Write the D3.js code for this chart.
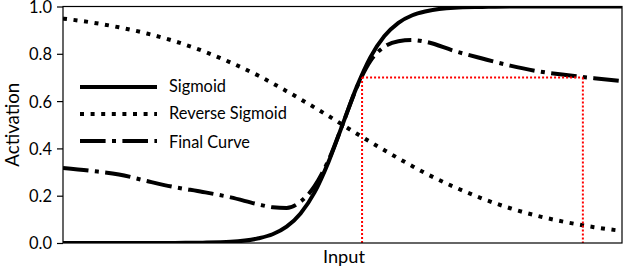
<!DOCTYPE html>
<html><head><meta charset="utf-8">
<script src="https://cdn.jsdelivr.net/npm/d3@7"></script>
<style>
html,body{margin:0;padding:0;background:#fff;}
text{font-family:Lato,"Open Sans",sans-serif;fill:#000;}
</style></head>
<body><svg id="c" width="626" height="272"></svg>
<script>
// Input positions (arbitrary units, -10..10)
const xs = [-10,-9,-8,-7,-6,-5,-4,-3,-2.5,-2,-1.5,-1,-0.5,0,0.5,1,1.5,2,2.5,3,4,5,6,7,8,9,10];
const sigmoid = [0,0,0,0,0.0004,0.0015,0.005,0.02,0.037,0.069,0.125,0.214,0.343,0.5,0.657,0.786,0.875,0.931,0.963,0.98,0.995,0.998,1,1,1,1,1];
const reverseSigmoid = [0.949,0.933,0.912,0.886,0.853,0.812,0.763,0.707,0.675,0.642,0.608,0.573,0.537,0.5,0.463,0.427,0.392,0.358,0.325,0.293,0.237,0.188,0.147,0.114,0.088,0.067,0.051];
const finalCurve = [0.317,0.305,0.290,0.262,0.236,0.216,0.193,0.163,0.151,0.148,0.175,0.24,0.35,0.50,0.655,0.77,0.83,0.853,0.858,0.85,0.812,0.78,0.75,0.726,0.71,0.697,0.685];
const yTicks = [0,0.2,0.4,0.6,0.8,1.0];
const yTickLabels = ["0.0","0.2","0.4","0.6","0.8","1.0"];
// Red guide: point on the curves at activation 0.7
const guideX = [0.7, 8.6];
const guideY = 0.7;
const seriesNames = ["Sigmoid","Reverse Sigmoid","Final Curve"];

const svg = d3.select("#c");
const L=63, R=622, T=6.5, B=243;
const x = d3.scaleLinear().domain([-10,10]).range([L,R]);
const y = d3.scaleLinear().domain([0,1]).range([B,T]);

function fit(sel, target){
  sel.attr("font-size",20);
  const w = sel.node().getComputedTextLength();
  sel.attr("font-size", 20*target/w);
  return sel;
}

svg.append("defs").append("clipPath").attr("id","clip")
  .append("rect").attr("x",L).attr("y",T).attr("width",R-L).attr("height",B-T);

const styles = [
  {dash:null},
  {dash:"4,6.6"},
  {dash:"25.6,6.4,4,6.4"}
];
const data = [sigmoid, reverseSigmoid, finalCurve];
const line = d3.line().x((d,i)=>x(xs[i])).y(d=>y(d)).curve(d3.curveMonotoneX);

const g = svg.append("g").attr("clip-path","url(#clip)");
data.forEach((s,k)=>{
  g.append("path").attr("d",line(s)).attr("fill","none").attr("stroke","#000")
   .attr("stroke-width",4).attr("stroke-dasharray",styles[k].dash);
});

// red dotted guides
const red = svg.append("g").attr("stroke","#ff0000").attr("stroke-width",2).attr("stroke-dasharray","2,2").attr("fill","none");
red.append("line").attr("x1",x(guideX[0])).attr("x2",x(guideX[0])).attr("y1",y(0)).attr("y2",y(guideY));
red.append("line").attr("x1",x(guideX[0])).attr("x2",x(guideX[1])).attr("y1",y(guideY)).attr("y2",y(guideY));
red.append("line").attr("x1",x(guideX[1])).attr("x2",x(guideX[1])).attr("y1",y(guideY)).attr("y2",y(0));

// frame
svg.append("rect").attr("x",L).attr("y",T).attr("width",R-L).attr("height",B-T)
  .attr("fill","none").attr("stroke","#000").attr("stroke-width",1.2);

// y axis
const ya = svg.append("g").attr("transform",`translate(${L},0)`)
  .call(d3.axisLeft(y).tickValues(yTicks).tickFormat((d,i)=>yTickLabels[i]).tickSize(6).tickPadding(5));
ya.select(".domain").remove();
ya.selectAll("line").attr("stroke","#000").attr("stroke-width",1.2);
const tt = ya.selectAll("text").attr("font-family","Lato").attr("fill","#000").attr("font-size",20);
const tw = tt.nodes()[0].getComputedTextLength();
tt.attr("font-size", 20*23/tw).attr("dy","0.36em");

// axis labels
fit(svg.append("text").attr("x",344).attr("y",263).attr("text-anchor","middle").text("Input"), 42);
fit(svg.append("text").attr("transform","translate(18.5,124.7) rotate(-90)").attr("text-anchor","middle").text("Activation"), 84);

// legend
const lg = svg.append("g");
const rows=[87,114,141];
const textRows=[86,113,141.7];
const widths=[57,118,81];
seriesNames.forEach((n,k)=>{
  lg.append("line").attr("x1",80).attr("x2",157).attr("y1",rows[k]).attr("y2",rows[k])
    .attr("stroke","#000").attr("stroke-width",4).attr("stroke-dasharray",styles[k].dash);
  fit(lg.append("text").attr("x",169).attr("y",textRows[k]).attr("dy","0.36em").text(n), widths[k]);
});
</script></body></html>
